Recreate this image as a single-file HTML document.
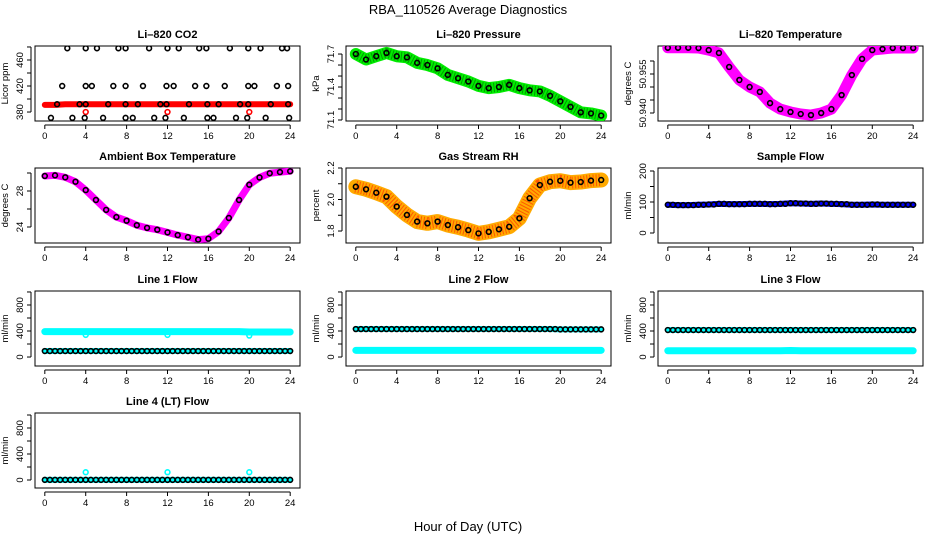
<!DOCTYPE html>
<html><head><meta charset="utf-8"><style>
body{margin:0;background:#fff;}
svg text{font-family:"Liberation Sans",Arial,sans-serif;}
</style></head><body>
<svg id="chart" width="936" height="540" viewBox="0 0 936 540" xmlns="http://www.w3.org/2000/svg">
<text x="468" y="14" font-size="13" text-anchor="middle">RBA_110526  Average Diagnostics</text>
<text x="468" y="531" font-size="13" text-anchor="middle">Hour of Day (UTC)</text>
</svg>
<script>
const hours = [0,1,2,3,4,5,6,7,8,9,10,11,12,13,14,15,16,17,18,19,20,21,22,23,24];
const xTicks = [0,4,8,12,16,20,24];

// CO2
const co2BlackH = [2.2,4.0,5.1,7.2,7.9,10.2,12.0,13.1,15.1,15.8,18.1,19.9,21.1,23.2,23.7,
 1.7,4.0,4.6,6.7,7.9,9.6,11.9,12.6,14.7,15.8,17.6,19.9,20.5,22.7,23.8,
 1.2,3.4,4.0,6.2,7.9,9.1,11.3,11.9,14.1,15.9,17.0,19.1,19.9,22.1,23.8,
 0.6,2.7,3.9,5.7,7.9,8.6,10.7,11.8,13.6,15.9,16.5,18.7,19.8,21.6,23.9];
const co2BlackV = [478,478,478,478,478,478,478,478,478,478,478,478,478,478,478,
 420,420,420,420,420,420,420,420,420,420,420,420,420,420,420,
 392,392,392,392,392,392,392,392,392,392,392,392,392,392,392,
 371,371,371,371,371,371,371,371,371,371,371,371,371,371,371];
const co2Red = [391,391,392,392,392,392,392,392,392,392,392,392,392,392,392,392,392,392,392,392,392,392,392,392,392];
const co2OutH = [4,12,20];
const co2OutV = [380,380,380];
// Pressure
const pres = [71.70,71.65,71.68,71.71,71.68,71.67,71.62,71.60,71.57,71.51,71.48,71.45,71.41,71.39,71.40,71.42,71.39,71.37,71.36,71.32,71.27,71.22,71.17,71.16,71.14];
// Li-820 temperature
const ltemp = [50.9651,50.9651,50.9651,50.9650,50.9642,50.9631,50.9577,50.9527,50.9500,50.9481,50.9438,50.9415,50.9404,50.9396,50.9392,50.9400,50.9415,50.9469,50.9546,50.9608,50.9642,50.9646,50.9650,50.9650,50.9650];
// Ambient box temperature
const amb = [29.67,29.74,29.52,29.03,28.1,27.0,25.9,25.1,24.7,24.2,23.9,23.7,23.4,23.1,22.86,22.6,22.7,23.5,25.0,27.0,28.7,29.5,29.97,30.1,30.2];
// Gas stream RH
const rh = [2.081,2.065,2.043,2.018,1.955,1.902,1.860,1.849,1.860,1.838,1.824,1.806,1.785,1.795,1.811,1.827,1.881,2.008,2.092,2.113,2.119,2.107,2.111,2.120,2.124];
// Sample flow
const sflow = [91,90,90,91,92,94,93,93,94,94,93,94,96,95,94,95,94,93,91,91,92,91,91,91,91];
// Line flows
const l1Upper = [390,390,390,390,390,390,390,390,390,390,390,390,390,390,390,390,390,390,390,390,385,385,385,385,385];
const l1Lower = [92,92,92,92,92,92,92,92,92,92,92,92,92,92,92,92,92,92,92,92,92,92,92,92,92];
const l1Black = [92,92,92,92,92,92,92,92,92,92,92,92,92,92,92,92,92,92,92,92,92,92,92,92,92];
const l2Upper = [430,430,430,430,430,430,430,430,430,430,430,430,430,430,430,430,430,430,430,430,425,425,425,425,425];
const l2Lower = [103,103,103,103,103,103,103,103,103,103,103,103,103,103,103,103,103,103,103,103,103,103,103,103,103];
const l2Black = [430,430,430,430,430,430,430,430,430,430,430,430,430,430,430,430,430,430,430,430,425,425,425,425,425];
const l3Upper = [415,415,415,415,415,415,415,415,415,415,415,415,415,415,415,415,415,415,415,415,415,415,415,415,415];
const l3Lower = [97,97,97,97,97,97,97,97,97,97,97,97,100,97,97,97,97,97,97,97,97,97,97,97,97];
const l3Black = [415,415,415,415,415,415,415,415,415,415,415,415,415,415,415,415,415,415,415,415,415,415,415,415,415];
const l4Cyan = [2,2,2,2,2,2,2,2,2,2,2,2,2,2,2,2,2,2,2,2,2,2,2,2,2];
const l4Black = [2,2,2,2,2,2,2,2,2,2,2,2,2,2,2,2,2,2,2,2,2,2,2,2,2];
const l4OutH = [4,12,20];
const l4OutV = [120,120,120];
const l1OutH = [4,12,20];
const l1OutV = [340,340,330];

const svg = document.getElementById('chart');
const NS = 'http://www.w3.org/2000/svg';
function mk(tag, attrs, parent){const e=document.createElementNS(NS,tag);for(const k in attrs)e.setAttribute(k,attrs[k]);(parent||svg).appendChild(e);return e;}

const colLeft=[35,346,658], rowTop=[46,168,291,413], W=265, H=75;

function panel(o){
  const L=colLeft[o.col], T=rowTop[o.row];
  const g=mk('g',{});
  
  
  const xs=h=>L+(h+0.96)/25.92*W;
  const ys=v=>T+H-(v-o.ymin)/(o.ymax-o.ymin)*H;
  const t=mk('text',{x:L+W/2,y:T-8,'font-size':11,'font-weight':'bold','text-anchor':'middle'},g);
  t.textContent=o.title;
  
  
  mk('rect',{x:L,y:T,width:W,height:H,fill:'none',stroke:'#000','stroke-width':1},g);
  // x axis
  mk('line',{x1:xs(0),x2:xs(24),y1:T+H+4,y2:T+H+4,stroke:'#000'},g);
  xTicks.forEach(h=>{
    mk('line',{x1:xs(h),x2:xs(h),y1:T+H+4,y2:T+H+8,stroke:'#000'},g);
    if(o.xlabels){const tl=mk('text',{x:xs(h),y:T+H+18,'font-size':9.5,'text-anchor':'middle'},g);tl.textContent=h;
      
      }
  });
  // y axis
  const ax=L-4;
  mk('line',{x1:ax,x2:ax,y1:ys(o.yticks[0]),y2:ys(o.yticks[o.yticks.length-1]),stroke:'#000'},g);
  o.yticks.forEach((v,i)=>{
    mk('line',{x1:ax-4,x2:ax,y1:ys(v),y2:ys(v),stroke:'#000'},g);
    if(o.ylabels[i]){const yy=ys(v);const tl=mk('text',{x:ax-8,y:yy,'font-size':9.5,'text-anchor':'middle',transform:`rotate(-90 ${ax-8} ${yy})`},g);tl.textContent=o.ylabels[i];
      
      }
  });
  const yt=mk('text',{x:L-27,y:T+H/2,'font-size':9.5,'text-anchor':'middle',transform:`rotate(-90 ${L-27} ${T+H/2})`},g);
  yt.textContent=o.ylab;
  
  
  const clip='c'+o.name; const cp=mk('clipPath',{id:clip},g); mk('rect',{x:L,y:T,width:W,height:H},cp);
  const dg=mk('g',{'clip-path':`url(#${clip})`},g);
  (o.bands||[]).forEach(b=>{
    const pts=b.h.map((h,i)=>xs(h)+','+ys(b.v[i])).join(' ');
    const pl=mk('polyline',{points:pts,fill:'none',stroke:b.color,'stroke-width':b.w,'stroke-linejoin':'round','stroke-linecap':'round'},dg);
    
    
    if(b.dots){const p2=mk('polyline',{points:pts,fill:'none',stroke:b.dots,'stroke-width':b.w*0.8,'stroke-dasharray':'1 2','stroke-linejoin':'round',opacity:0.6},dg);}
  });
  (o.pts||[]).forEach(p=>{
    p.h.forEach((h,i)=>{
      const c=mk('circle',{cx:xs(h),cy:ys(p.v[i]),r:p.r||2.4,fill:'none',stroke:p.color,'stroke-width':1.6},dg);
      
      
    });
  });
}
const flowT=[0,200,400,600,800,1000], flowL=['0','','400','','800',''];
const halfShift=hours.map(h=>h+0.5).slice(0,24);
panel({name:'co2-panel',col:0,row:0,title:'Li\u2013820 CO2',ylab:'Licor ppm',ymin:366.2,ymax:481.5,xlabels:true,
  yticks:[380,400,420,440,460,480],ylabels:['380','','420','','460',''],
  bands:[{h:hours,v:co2Red,color:'#ff0000',w:6}],
  pts:[{h:co2OutH,v:co2OutV,color:'#ff0000'},{h:co2BlackH,v:co2BlackV,color:'#000'}]});
panel({name:'pressure-panel',col:1,row:0,title:'Li\u2013820 Pressure',ylab:'kPa',ymin:71.091,ymax:71.773,xlabels:true,
  yticks:[71.1,71.2,71.3,71.4,71.5,71.6,71.7],ylabels:['71.1','','','71.4','','','71.7'],
  bands:[{h:hours,v:pres,color:'#00ee00',w:12,dots:'#006600'}],
  pts:[{h:hours,v:pres,color:'#000'}]});
panel({name:'li820-temp-panel',col:2,row:0,title:'Li\u2013820 Temperature',ylab:'degrees C',ymin:50.93692,ymax:50.96577,xlabels:true,
  yticks:[50.940,50.945,50.950,50.955,50.960],ylabels:['50.940','','','50.955',''],
  bands:[{h:hours,v:ltemp,color:'#ff00ff',w:11}],
  pts:[{h:hours,v:ltemp,color:'#000'}]});
panel({name:'ambient-temp-panel',col:0,row:1,title:'Ambient Box Temperature',ylab:'degrees C',ymin:22.222,ymax:30.556,xlabels:true,
  yticks:[24,26,28,30],ylabels:['24','','28',''],
  bands:[{h:hours,v:amb,color:'#ff00ff',w:7}],
  pts:[{h:hours,v:amb,color:'#000'}]});
panel({name:'rh-panel',col:1,row:1,title:'Gas Stream RH',ylab:'percent',ymin:1.724,ymax:2.2,xlabels:true,
  yticks:[1.8,1.9,2.0,2.1,2.2],ylabels:['1.8','','2.0','','2.2'],
  bands:[{h:hours,v:rh,color:'#ffaa00',w:15,dots:'#ff2200'}],
  pts:[{h:hours,v:rh,color:'#000'}]});
panel({name:'sample-flow-panel',col:2,row:1,title:'Sample Flow',ylab:'ml/min',ymin:-32.3,ymax:209.7,xlabels:true,
  yticks:[0,50,100,150,200],ylabels:['0','','100','','200'],
  bands:[{h:hours,v:sflow,color:'#0000ff',w:6}],
  pts:[{h:hours,v:sflow,color:'#000'},{h:halfShift,v:sflow.slice(0,24),color:'#000'}]});
panel({name:'line1-flow-panel',col:0,row:2,title:'Line 1 Flow',ylab:'ml/min',ymin:-138,ymax:1015,xlabels:true,
  yticks:flowT,ylabels:flowL,
  bands:[{h:hours,v:l1Upper,color:'#00ffff',w:7},{h:hours,v:l1Lower,color:'#00ffff',w:6}],
  pts:[{h:l1OutH,v:l1OutV,color:'#00ffff'},{h:hours,v:l1Black,color:'#000'},{h:halfShift,v:l1Black.slice(0,24),color:'#000'}]});
panel({name:'line2-flow-panel',col:1,row:2,title:'Line 2 Flow',ylab:'ml/min',ymin:-138,ymax:1015,xlabels:true,
  yticks:flowT,ylabels:flowL,
  bands:[{h:hours,v:l2Upper,color:'#00ffff',w:6},{h:hours,v:l2Lower,color:'#00ffff',w:7}],
  pts:[{h:hours,v:l2Black,color:'#000'},{h:halfShift,v:l2Black.slice(0,24),color:'#000'}]});
panel({name:'line3-flow-panel',col:2,row:2,title:'Line 3 Flow',ylab:'ml/min',ymin:-138,ymax:1015,xlabels:true,
  yticks:flowT,ylabels:flowL,
  bands:[{h:hours,v:l3Upper,color:'#00ffff',w:6},{h:hours,v:l3Lower,color:'#00ffff',w:7}],
  pts:[{h:hours,v:l3Black,color:'#000'},{h:halfShift,v:l3Black.slice(0,24),color:'#000'}]});
panel({name:'line4-flow-panel',col:0,row:3,title:'Line 4 (LT) Flow',ylab:'ml/min',ymin:-123,ymax:1031,xlabels:true,
  yticks:flowT,ylabels:flowL,
  bands:[{h:hours,v:l4Cyan,color:'#00ffff',w:6}],
  pts:[{h:l4OutH,v:l4OutV,color:'#00ffff'},{h:hours,v:l4Black,color:'#000'},{h:halfShift,v:l4Black.slice(0,24),color:'#000'}]});
</script>
</body></html>
